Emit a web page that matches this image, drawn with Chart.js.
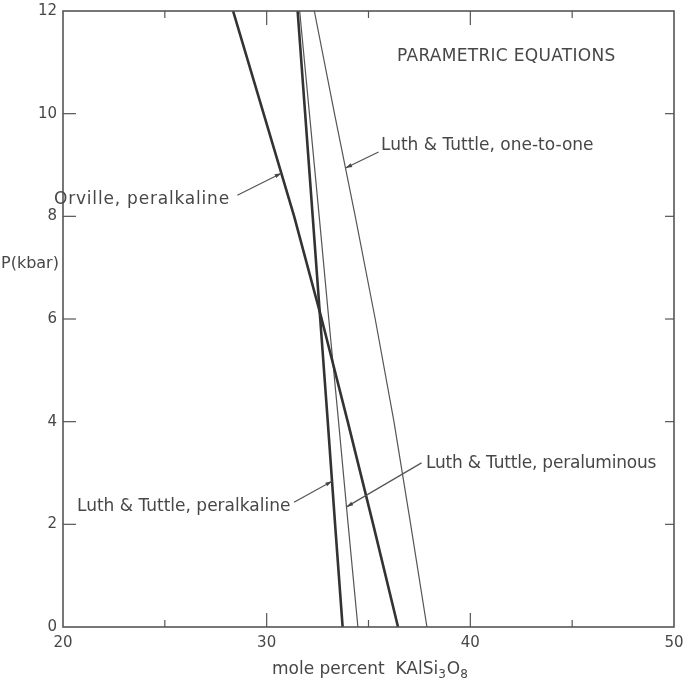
<!DOCTYPE html>
<html>
<head>
<meta charset="utf-8">
<style>
  html, body { margin: 0; padding: 0; background: #fff; }
  #wrap { width: 687px; height: 682px; position: relative; }
</style>
<script src="https://cdn.jsdelivr.net/npm/chart.js@4/dist/chart.umd.min.js"></script>
</head>
<body>
<div id="wrap"><canvas id="c" width="687" height="682"></canvas></div>
<script>
// ---- data ----
const pressure = [0, 2, 4, 6, 8, 10, 12];                       // P (kbar)
const orvillePeralkaline = [36.45, 35.23, 33.98, 32.7, 31.35, 29.85, 28.35];
const luthPeralkaline    = [33.73, 33.36, 33.0, 32.63, 32.26, 31.89, 31.52];
const luthPeraluminous   = [34.48, 34.0, 33.53, 33.05, 32.58, 32.1, 31.62];
const luthOneToOne       = [37.87, 37.07, 36.25, 35.33, 34.35, 33.33, 32.34];
const xTickValues = [20, 30, 40, 50];
const yTickValues = [0, 2, 4, 6, 8, 10, 12];
const xMinorTicks = [25, 35, 45];
const title = 'PARAMETRIC EQUATIONS';
const lineNames = ['Orville, peralkaline', 'Luth & Tuttle, peralkaline', 'Luth & Tuttle, peraluminous', 'Luth & Tuttle, one-to-one'];
// arrow tips given as pressure on each line
const arrowTipP = [8.84, 2.84, 2.34, 8.94];

// ---- styling / layout (not data) ----
const INK = '#474747';
const FONT = '"DejaVu Sans", "Liberation Sans", sans-serif';
const labelLayout = [
  { left: 54,  cy: 200, tail: [-44, 22], spacing: 0.8 },
  { left: 77,  cy: 507, tail: [-38, 21], spacing: 0 },
  { left: 426, cy: 464, tail: [75, -44], spacing: -0.2 },
  { left: 381, cy: 146, tail: [33, -16], spacing: 0 }
];

function pts(xs) { return xs.map((x, i) => ({ x: x, y: pressure[i] })); }
const seriesX = [orvillePeralkaline, luthPeralkaline, luthPeraluminous, luthOneToOne];
const widths = [2.6, 2.6, 1.2, 1.2];

const datasets = seriesX.map((xs, i) => ({
  label: lineNames[i],
  data: pts(xs),
  showLine: true,
  borderColor: i < 2 ? '#333' : '#555',
  borderWidth: widths[i],
  pointRadius: 0,
  fill: false
}));

function xAtP(xs, p) {
  for (let k = 0; k < pressure.length - 1; k++) {
    if (p >= pressure[k] && p <= pressure[k + 1]) {
      const t = (p - pressure[k]) / (pressure[k + 1] - pressure[k]);
      return xs[k] + (xs[k + 1] - xs[k]) * t;
    }
  }
  return xs[xs.length - 1];
}

const decor = {
  id: 'decor',
  afterDraw(chart) {
    const ctx = chart.ctx;
    const xs = chart.scales.x, ys = chart.scales.y;
    const a = chart.chartArea;
    ctx.save();
    // frame
    ctx.strokeStyle = '#555';
    ctx.lineWidth = 1.6;
    ctx.strokeRect(a.left, a.top, a.right - a.left, a.bottom - a.top);
    // x ticks (bottom and top, inward)
    ctx.lineWidth = 1.2;
    xTickValues.slice(1, -1).forEach(v => {
      const px = xs.getPixelForValue(v);
      ctx.beginPath(); ctx.moveTo(px, a.bottom); ctx.lineTo(px, a.bottom - 14); ctx.stroke();
      ctx.beginPath(); ctx.moveTo(px, a.top); ctx.lineTo(px, a.top + 14); ctx.stroke();
    });
    xMinorTicks.forEach(v => {
      const px = xs.getPixelForValue(v);
      ctx.beginPath(); ctx.moveTo(px, a.bottom); ctx.lineTo(px, a.bottom - 7); ctx.stroke();
      ctx.beginPath(); ctx.moveTo(px, a.top); ctx.lineTo(px, a.top + 7); ctx.stroke();
    });
    // y ticks (left and right, inward)
    yTickValues.slice(1, -1).forEach(v => {
      const py = ys.getPixelForValue(v);
      ctx.beginPath(); ctx.moveTo(a.left, py); ctx.lineTo(a.left + 13, py); ctx.stroke();
      ctx.beginPath(); ctx.moveTo(a.right, py); ctx.lineTo(a.right - 9, py); ctx.stroke();
    });

    ctx.fillStyle = INK;
    ctx.textBaseline = 'middle';
    ctx.textAlign = 'left';
    // title
    ctx.font = '17px ' + FONT;
    ctx.letterSpacing = '0.3px';
    ctx.fillText(title, 397, 57);
    // line labels + arrows
    lineNames.forEach((name, i) => {
      const L = labelLayout[i];
      ctx.font = '17px ' + FONT;
      ctx.letterSpacing = L.spacing + 'px';
      ctx.fillText(name, L.left, L.cy);
      ctx.letterSpacing = '0px';
      const p = arrowTipP[i];
      const tx = xs.getPixelForValue(xAtP(seriesX[i], p));
      const ty = ys.getPixelForValue(p);
      const sx = tx + L.tail[0], sy = ty + L.tail[1];
      ctx.strokeStyle = '#555';
      ctx.lineWidth = 1.2;
      ctx.beginPath(); ctx.moveTo(sx, sy); ctx.lineTo(tx, ty); ctx.stroke();
      const ang = Math.atan2(ty - sy, tx - sx);
      const h = 7, w = 0.3;
      ctx.beginPath();
      ctx.moveTo(tx, ty);
      ctx.lineTo(tx - h * Math.cos(ang - w), ty - h * Math.sin(ang - w));
      ctx.lineTo(tx - h * Math.cos(ang + w), ty - h * Math.sin(ang + w));
      ctx.closePath();
      ctx.fill();
    });
    // y axis title
    ctx.font = '16px ' + FONT;
    ctx.fillText('P(kbar)', 1, 264);
    // x axis title with subscripts
    let x = 272; const y = 670;
    const parts = [['mole percent  KAlSi', false], ['3', true], ['O', false], ['8', true]];
    parts.forEach(([t, sub]) => {
      ctx.font = (sub ? '12px ' : '17px ') + FONT;
      ctx.fillText(t, x, sub ? y + 5 : y);
      x += ctx.measureText(t).width + (sub ? 1 : 0);
    });
    ctx.restore();
  }
};

new Chart(document.getElementById('c'), {
  type: 'scatter',
  data: { datasets: datasets },
  options: {
    responsive: false,
    animation: false,
    layout: { padding: { top: 11, right: 13, left: 0, bottom: 0 } },
    plugins: { legend: { display: false }, tooltip: { enabled: false } },
    scales: {
      x: {
        type: 'linear', min: 20, max: 50,
        afterFit: s => { s.height = 55; s.paddingLeft = 0; s.paddingRight = 0; },
        afterBuildTicks: s => { s.ticks = xTickValues.map(v => ({ value: v })); },
        grid: { display: false, drawTicks: false },
        border: { display: false },
        ticks: { color: INK, font: { family: FONT, size: 15 }, padding: 7, maxRotation: 0 }
      },
      y: {
        type: 'linear', min: 0, max: 12,
        afterFit: s => { s.width = 63; s.paddingTop = 0; s.paddingBottom = 0; },
        afterBuildTicks: s => { s.ticks = yTickValues.map(v => ({ value: v })); },
        grid: { display: false, drawTicks: false },
        border: { display: false },
        ticks: { color: INK, font: { family: FONT, size: 15 }, padding: 6 }
      }
    }
  },
  plugins: [decor]
});
</script>
</body>
</html>
